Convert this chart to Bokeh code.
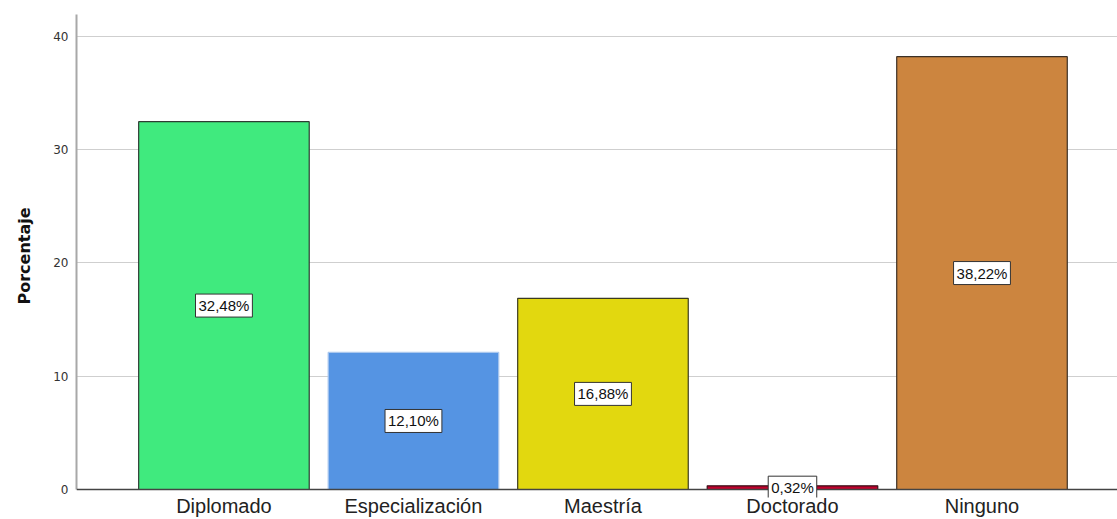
from bokeh.plotting import figure
from bokeh.models import Range1d, FixedTicker, Label, Span
from bokeh.embed import file_html
from bokeh.resources import INLINE

categories = ["Diplomado", "Especialización", "Maestría", "Doctorado", "Ninguno"]
percentages = [32.48, 12.10, 16.88, 0.32, 38.22]
bar_colors = ["#40EA7E", "#5594E3", "#E2D80F", "#C0002C", "#CC853F"]
edge_colors = ["#2f3b33", "#a9c7ee", "#3a3a20", "#3a1018", "#3b3026"]
y_ticks = [0, 10, 20, 30, 40]

xs = list(range(1, len(categories) + 1))
labels = [f"{v:.2f}".replace(".", ",") + "%" for v in percentages]
mids = [v / 2 for v in percentages]

p = figure(width=1117, height=519, output_backend="svg", toolbar_location=None,
           x_range=Range1d(0.222, 5.715), y_range=Range1d(-0.707, 41.94),
           min_border_left=76, min_border_right=0, min_border_top=14, min_border_bottom=20)
p.outline_line_color = None
p.background_fill_color = "white"

p.vbar(x=xs, bottom=0, top=percentages, width=0.9, fill_color=bar_colors,
       line_color=edge_colors, line_width=1.2)

p.add_layout(Span(location=0, dimension="width", line_color="#444444", line_width=1.5))

for xv, yv, t in zip(xs, mids, labels):
    p.add_layout(Label(x=xv, y=yv, text=t, text_align="center",
                       text_baseline="middle", text_font="Liberation Sans",
                       text_font_size="15px", text_color="#111111",
                       background_fill_color="white", border_line_color="#333333",
                       border_line_width=1, padding=3, level="overlay"))

p.xgrid.grid_line_color = None
p.ygrid.grid_line_color = "#cfcfcf"
p.ygrid.grid_line_width = 1
p.ygrid.ticker = FixedTicker(ticks=y_ticks[1:])

p.xaxis.ticker = FixedTicker(ticks=xs)
p.xaxis.major_label_overrides = {x: c for x, c in zip(xs, categories)}
p.xaxis.major_label_text_font = "Liberation Sans"
p.xaxis.major_label_text_font_size = "20px"
p.xaxis.major_label_text_color = "#222222"
p.xaxis.major_label_standoff = -3
p.xaxis.major_tick_out = 0
p.xaxis.major_tick_in = 0
p.xaxis.major_tick_line_color = None
p.xaxis.minor_tick_line_color = None
p.xaxis.axis_line_color = None

p.yaxis.ticker = FixedTicker(ticks=y_ticks)
p.yaxis.bounds = (0, 41.94)
p.yaxis.major_label_text_font = "DejaVu Sans"
p.yaxis.major_label_text_font_size = "12px"
p.yaxis.major_label_text_color = "#333333"
p.yaxis.major_tick_out = 0
p.yaxis.major_tick_in = 0
p.yaxis.major_tick_line_color = None
p.yaxis.minor_tick_line_color = None
p.yaxis.major_label_standoff = 8
p.yaxis.axis_line_color = "#a8a8a8"
p.yaxis.axis_line_width = 2
p.yaxis.axis_label = "Porcentaje"
p.yaxis.axis_label_text_font = "DejaVu Sans"
p.yaxis.axis_label_text_font_style = "bold"
p.yaxis.axis_label_text_font_size = "16px"
p.yaxis.axis_label_text_color = "#111111"
p.yaxis.axis_label_standoff = 16

open("out.html", "w").write(file_html(p, INLINE))
